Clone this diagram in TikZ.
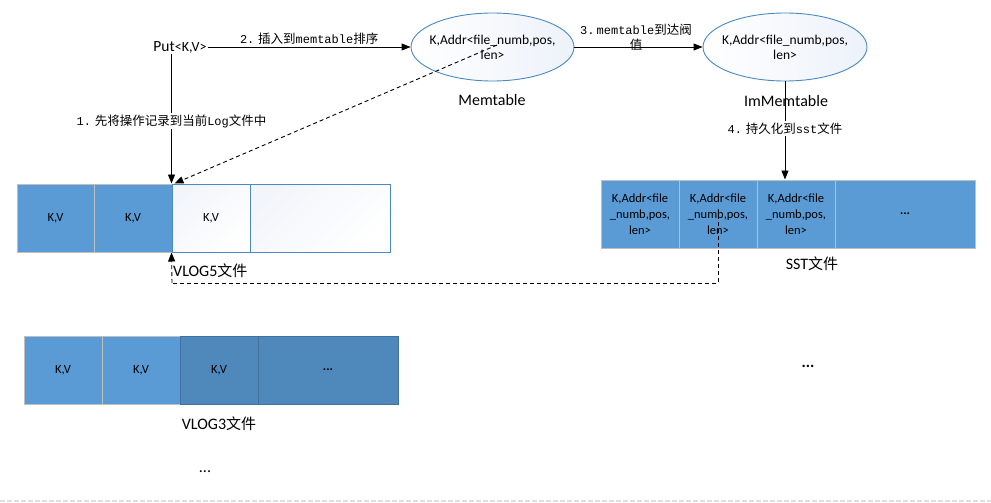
\documentclass[tikz,border=0pt]{standalone}
\usepackage{fontspec}
\setmainfont{Carlito}
\newfontfamily\cjk{Noto Sans CJK SC}
\newfontfamily\mono{Liberation Mono}
\usetikzlibrary{arrows.meta,shapes.geometric}
\definecolor{cellblue}{HTML}{5B9BD5}
\definecolor{darkcell}{HTML}{4F88BB}
\definecolor{darkedge}{HTML}{41719C}
\definecolor{celledge}{HTML}{BFBFBF}
\definecolor{lineblue}{HTML}{4A89C4}
\definecolor{ellfill}{HTML}{EDF2FA}
\definecolor{cellfill}{HTML}{F2F5FB}
\tikzset{
  arr/.style={-{Triangle[length=9pt,width=7pt]}, line width=0.9pt},
  dasharr/.style={-{Triangle[length=9pt,width=7pt]}, line width=0.9pt, dash pattern=on 4pt off 3pt},
  dashline/.style={line width=0.9pt, dash pattern=on 4pt off 3pt},
  cellbase/.style={rectangle, minimum height=68pt, inner sep=0pt, line width=1pt, align=center, font=\fontsize{12.5}{16}\selectfont},
  bluecell/.style={cellbase, fill=cellblue, draw=celledge},
  whitecell/.style={cellbase, draw=lineblue, line width=1pt, top color=cellfill, bottom color=white, shading angle=45},
  darkbox/.style={cellbase, fill=darkcell, draw=darkedge},
  memell/.style={ellipse, draw=lineblue, line width=0.9pt, inner sep=0pt, minimum width=163pt, minimum height=68pt, left color=white, right color=ellfill},
  elltext/.style={align=center, inner sep=0pt, font=\fontsize{13.5}{15}\selectfont},
  lbl/.style={font=\fontsize{16}{18}\selectfont, inner sep=1pt},
  cnlbl/.style={font=\cjk\fontsize{12.5}{15}\selectfont, inner sep=1.5pt},
}
\newcommand{\mt}[1]{{\mono\fontsize{12}{15}\selectfont #1}}
\begin{document}
\begin{tikzpicture}[x=1pt,y=-1pt]
\useasboundingbox (0,0) rectangle (991,503);
\fill[white] (0,0) rectangle (991,503);

% top nodes
\node[font=\fontsize{15.5}{17}\selectfont, inner sep=1pt] (put) at (180,47) {Put{\fontsize{14}{15}\selectfont<K,V>}};
\node[memell] (mem) at (492.5,47) {};
\node[elltext] (memtxt) at (mem.center) {K,Addr<file\_numb,pos,\\len>};
\node[memell, minimum width=164pt] (imm) at (785,47) {};
\node[elltext] (immtxt) at (imm.center) {K,Addr<file\_numb,pos,\\len>};
\node[lbl] (memlbl) at (492,100) {Memtable};
\node[lbl] (immlbl) at (786,101) {ImMemtable};

% VLOG5 cells
\node[bluecell, minimum width=77pt] (v5a) at (55.5,218) {K,V};
\node[bluecell, minimum width=78pt] (v5b) at (133,218) {K,V};
\node[whitecell, minimum width=78pt] (v5c) at (211,218) {K,V};
\node[whitecell, minimum width=140pt] (v5d) at (320,218) {};
\node[lbl, anchor=west] (v5lbl) at (172,271) {VLOG5{\cjk\fontsize{15}{18}\selectfont 文件}};

% SST cells
\node[bluecell, minimum width=78pt] (s1) at (640,214) {K,Addr<file\\\_numb,pos,\\len>};
\node[bluecell, minimum width=78pt] (s2) at (718,214) {K,Addr<file\\\_numb,pos,\\len>};
\node[bluecell, minimum width=78pt] (s3) at (796,214) {K,Addr<file\\\_numb,pos,\\len>};
\node[bluecell, minimum width=140pt] (s4) at (905,214) {\textbf{...}};
\node[lbl] (sstlbl) at (812,264) {SST{\cjk\fontsize{15}{18}\selectfont 文件}};

% VLOG3 cells
\node[bluecell, minimum width=78pt] (v3a) at (63,370) {K,V};
\node[bluecell, minimum width=78pt] (v3b) at (141,370) {K,V};
\node[darkbox, minimum width=78pt] (v3c) at (219,370) {K,V};
\node[darkbox, minimum width=140pt] (v3d) at (328,370) {\textbf{...}};
\node[lbl] (v3lbl) at (219,424) {VLOG3{\cjk\fontsize{15}{18}\selectfont 文件}};

\node[lbl] (dots1) at (205,472) {...};
\node[font=\bfseries\fontsize{16}{18}\selectfont] (dots2) at (808,366) {...};

% connectors
\draw[arr] (put.east) -- node[cnlbl, above=1pt] {\mt{2.} 插入到\mt{memtable}排序} (mem.west);
\draw[arr] (mem.east) -- (imm.west);
\node[cnlbl, align=center] (lbl3) at (636,37) {\mt{3.}\,\mt{memtable}到达阀\\值};
\draw[arr] (v5c.north west |- put.south) -- node[cnlbl, fill=white, pos=0.52] {\mt{1.} 先将操作记录到当前\mt{Log}文件中} (v5c.north west);
\coordinate (memsrc) at (497,45);
\draw[dasharr] (memsrc) -- ([xshift=3pt]v5c.north west);
\draw[arr] (imm.south) -- node[cnlbl, fill=white, pos=0.48] {\mt{4.} 持久化到\mt{sst}文件} (imm.south |- s3.north);
\coordinate (sstsrc) at (718,215);
\coordinate (turn1) at (718,283);
\coordinate (turn2) at (172,283);
\draw[dashline] (sstsrc) -- (turn1) -- (turn2);
\draw[dasharr] (turn2) -- (v5c.south west);

% bottom border
\draw[gray!25, line width=1.5pt, dash pattern=on 5pt off 2pt] (0,501) -- (991,501);
\end{tikzpicture}
\end{document}
